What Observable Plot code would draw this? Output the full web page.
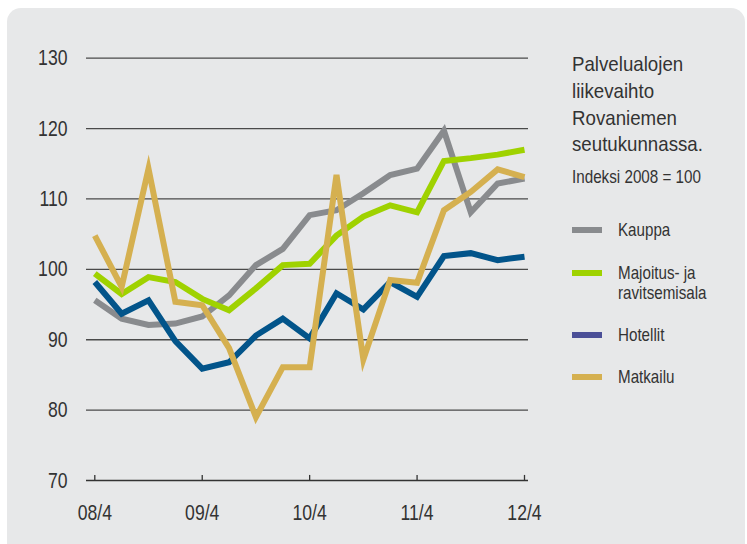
<!DOCTYPE html>
<html><head><meta charset="utf-8">
<script src="https://cdn.jsdelivr.net/npm/d3@7"></script>
<script src="https://cdn.jsdelivr.net/npm/@observablehq/plot@0.6"></script>
<style>
body{margin:0;background:#fff;font-family:"Liberation Sans",Arial,sans-serif;color:#333}
#wrap{position:relative;width:747px;height:544px;overflow:hidden}
#panel{position:absolute;left:7px;top:8px;width:738px;height:600px;background:#e7e8e9;border-radius:14px}
#chart{position:absolute;left:0;top:0}
#legend{position:absolute;left:572px;top:0;width:172px;height:544px}
#title{position:absolute;top:51.1px;left:0;font-size:21px;line-height:26.7px;white-space:nowrap;transform:scaleX(0.89);transform-origin:left top}
#sub{position:absolute;top:166.6px;left:0;font-size:17.7px;line-height:20px;white-space:nowrap;transform:scaleX(0.86);transform-origin:left top}
#items{position:absolute;top:220.3px;left:0}
.item{display:flex;align-items:flex-start;font-size:18.5px;line-height:20px;margin-bottom:22.3px}
.sw{width:30px;height:6px;margin-top:7px;margin-right:15.5px;flex:none}
.lab{white-space:nowrap;transform:scaleX(0.82);transform-origin:left top}
</style></head>
<body>
<div id="wrap">
  <div id="panel"></div>
  <div id="chart"></div>
  <div id="legend">
    <div id="title">Palvelualojen<br>liikevaihto<br>Rovaniemen<br>seutukunnassa.</div>
    <div id="sub">Indeksi 2008 = 100</div>
    <div id="items"></div>
  </div>
</div>
<script>
const quarters = ["08/4","09/1","09/2","09/3","09/4","10/1","10/2","10/3","10/4","11/1","11/2","11/3","11/4","12/1","12/2","12/3","12/4"];
const xTickLabels = ["08/4","09/4","10/4","11/4","12/4"];
const yTicks = [70,80,90,100,110,120,130];

const seriesNames = ["Kauppa","Majoitus- ja ravitsemisala","Hotellit","Matkailu"];
const legendLabels = ["Kauppa","Majoitus- ja<br>ravitsemisala","Hotellit","Matkailu"];
const lineColors = ["#898b8e","#9fd200","#02548a","#d5b050"];
const legendColors = ["#898b8e","#9fd200","#4b4f97","#d5b050"];

const kauppa   = [95.6,93.0,92.1,92.3,93.3,96.3,100.6,102.9,107.7,108.4,110.8,113.4,114.3,119.7,108.1,112.2,112.9];
const majoitus = [99.4,96.5,98.9,98.2,95.8,94.2,97.3,100.6,100.8,104.8,107.5,109.1,108.1,115.4,115.8,116.3,117.0];
const hotellit = [98.2,93.7,95.6,89.8,85.9,86.8,90.6,93.0,90.2,96.6,94.3,98.2,96.1,101.9,102.3,101.3,101.8];
const matkailu = [104.8,97.5,114.3,95.4,94.9,88.8,79.0,86.1,86.1,113.4,87.2,98.5,98.1,108.4,111.0,114.2,113.1];

const seriesValues = [kauppa, majoitus, hotellit, matkailu];
const tickIdx = xTickLabels.map(l => quarters.indexOf(l));

const lineMarks = seriesValues.map((vals, s) =>
  Plot.line(vals.map((v, i) => ({i, value: v, series: seriesNames[s]})), {
    x: "i", y: "value", stroke: lineColors[s], strokeWidth: 6,
    strokeLinejoin: "miter", strokeMiterlimit: 6, strokeLinecap: "butt"
  })
);

const chart = Plot.plot({
  width: 747, height: 544,
  marginLeft: 86, marginRight: 219, marginTop: 57.7, marginBottom: 64,
  x: {domain: [-0.309, 16.149]},
  y: {domain: [70, 130]},
  style: {background: "transparent", fontFamily: '"Liberation Sans",Arial,sans-serif', color: "#333"},
  marks: [
    Plot.ruleY(yTicks.slice(1), {stroke: "#4a4a4a", strokeWidth: 1.3}),
    Plot.ruleY([70], {stroke: "#333", strokeWidth: 1.5}),
    Plot.ruleX(tickIdx, {x: d => d, y1: 70, y2: 70.72, stroke: "#333", strokeWidth: 1.3}),
    Plot.axisY({ticks: yTicks, tickSize: 0, tickPadding: 19, fontSize: 22, label: null, tickFormat: d => String(d)}),
    Plot.axisX({ticks: tickIdx, tickSize: 0, tickPadding: 23.4, fontSize: 22, label: null, tickFormat: i => quarters[i]}),
    ...lineMarks
  ]
});
document.getElementById("chart").appendChild(chart);

// condense axis text (narrow typeface look)
chart.querySelectorAll('g[aria-label$="tick label"] text').forEach(t => {
  const len = t.getComputedTextLength();
  t.setAttribute("textLength", (len * 0.8).toFixed(2));
  t.setAttribute("lengthAdjust", "spacingAndGlyphs");
});

const items = document.getElementById("items");
legendLabels.forEach((lab, s) => {
  const d = document.createElement("div");
  d.className = "item";
  d.innerHTML = `<div class="sw" style="background:${legendColors[s]}"></div><div class="lab">${lab}</div>`;
  items.appendChild(d);
});
</script>
</body></html>
